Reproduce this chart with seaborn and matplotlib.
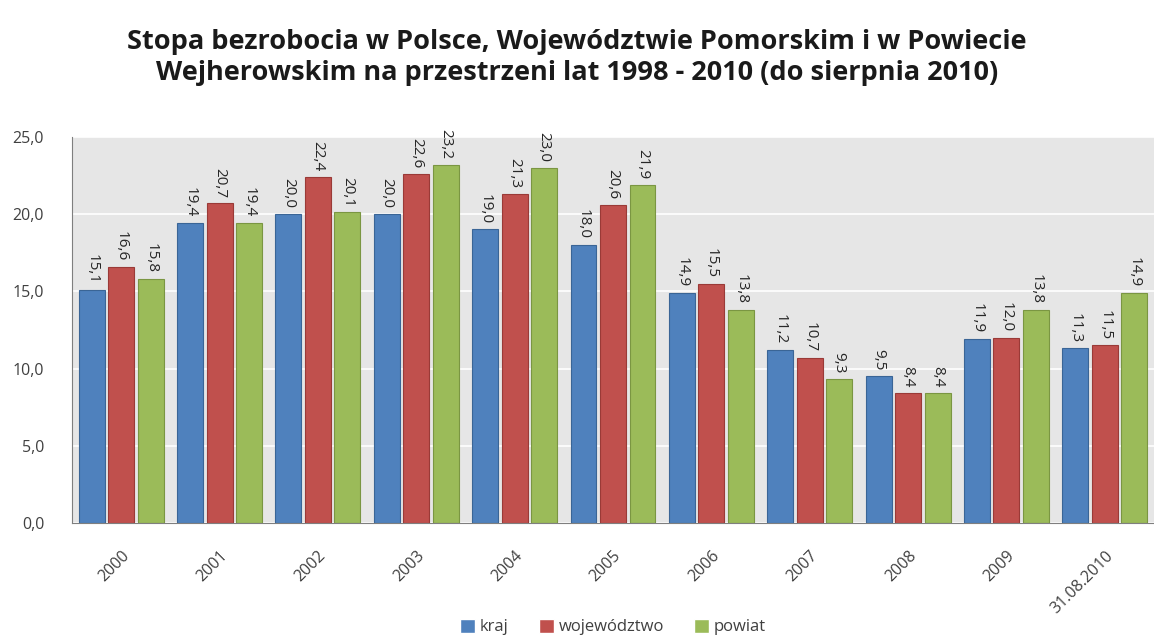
import matplotlib
matplotlib.use("Agg")
import matplotlib.pyplot as plt
import seaborn as sns
import pandas as pd

years = ['2000', '2001', '2002', '2003', '2004', '2005', '2006', '2007', '2008', '2009', '31.08.2010']
kraj = [15.1, 19.4, 20.0, 20.0, 19.0, 18.0, 14.9, 11.2, 9.5, 11.9, 11.3]
wojewodztwo = [16.6, 20.7, 22.4, 22.6, 21.3, 20.6, 15.5, 10.7, 8.4, 12.0, 11.5]
powiat = [15.8, 19.4, 20.1, 23.2, 23.0, 21.9, 13.8, 9.3, 8.4, 13.8, 14.9]
series = ['kraj', 'województwo', 'powiat']
colors = ['#4F81BD', '#C0504D', '#9BBB59']
edges = ['#3A6596', '#9A3A37', '#7A9642']

df = pd.DataFrame({
    'rok': years * 3,
    'stopa': kraj + wojewodztwo + powiat,
    'seria': [s for s in series for _ in years],
})

sns.set_style('white')
plt.rcParams['font.family'] = ['Open Sans', 'DejaVu Sans']

fig = plt.figure(figsize=(11.54, 6.39), dpi=100)
ax = fig.add_axes([0.0624, 0.1815, 0.9376, 0.6045])
ax.set_facecolor('#E6E6E6')

sns.barplot(data=df, x='rok', y='stopa', hue='seria', palette=colors,
            width=0.9, gap=0.12, saturation=1, ax=ax, legend=True)

for cont, ec in zip(ax.containers, edges):
    for bar in cont:
        bar.set_edgecolor(ec)
        bar.set_linewidth(0.8)
    ax.bar_label(cont, labels=[f'{b.get_height():.1f}'.replace('.', ',') for b in cont],
                 rotation=270, padding=4, fontsize=11, color='#262626')

ax.set_ylim(0, 25)
ax.set_xlim(-0.5, 10.5)
ax.set_yticks([0, 5, 10, 15, 20, 25])
ax.set_yticklabels([f'{v:.1f}'.replace('.', ',') for v in [0, 5, 10, 15, 20, 25]])
ax.yaxis.grid(True, color='white', linewidth=1.2)
ax.set_axisbelow(True)
ax.tick_params(axis='both', length=0, labelsize=11.5, labelcolor='#404040')
ax.tick_params(axis='y', pad=20)
ax.tick_params(axis='x', pad=18)
plt.setp(ax.get_xticklabels(), rotation=45, ha='right', rotation_mode='anchor')
ax.set_xlabel('')
ax.set_ylabel('')
for side in ['top', 'right']:
    ax.spines[side].set_visible(False)
ax.spines['left'].set_color('#7F7F7F')
ax.spines['bottom'].set_color('#7F7F7F')

handles, labels = ax.get_legend_handles_labels()
ax.legend(handles, labels, loc='lower center', bbox_to_anchor=(0.5, -0.33),
          ncol=3, frameon=False, fontsize=12, handlelength=0.9, handleheight=0.9,
          handletextpad=0.3, columnspacing=1.8, labelcolor='#404040')

fig.suptitle('Stopa bezrobocia w Polsce, Województwie Pomorskim i w Powiecie\n'
             'Wejherowskim na przestrzeni lat 1998 - 2010 (do sierpnia 2010)',
             x=0.5, y=0.955, fontsize=19.5, fontweight='bold', color='#1a1a1a', linespacing=1.25)

fig.savefig('out.png', dpi=100)
